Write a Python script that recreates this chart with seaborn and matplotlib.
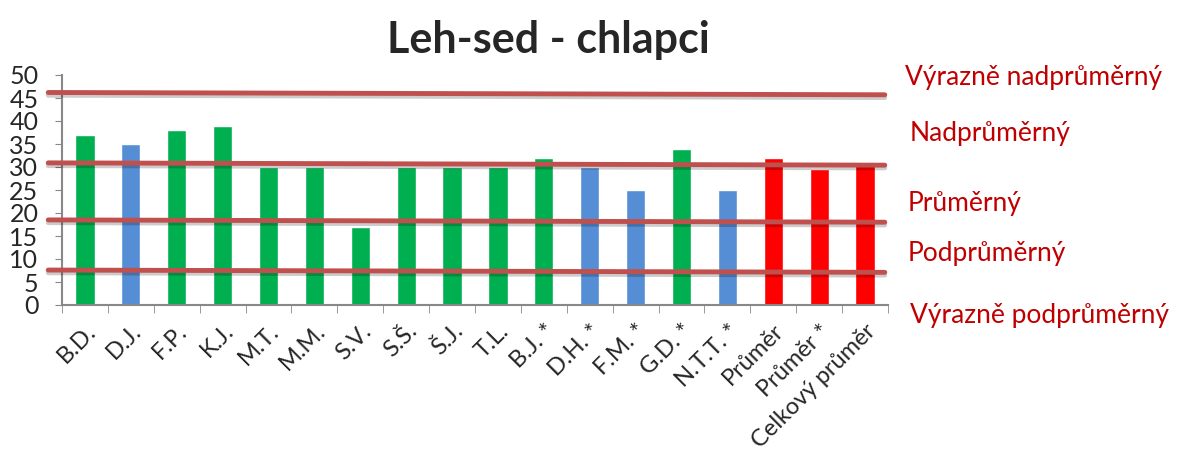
import numpy as np
import pandas as pd
import seaborn as sns
import matplotlib.pyplot as plt
import matplotlib.patheffects as pe
from matplotlib.ticker import FixedLocator, NullFormatter

# data
names = ["B.D.", "D.J.", "F.P.", "K.J.", "M.T.", "M.M.", "S.V.", "S.Š.", "Š.J.", "T.L.",
         "B.J. *", "D.H. *", "F.M. *", "G.D. *", "N.T.T. *", "Průměr", "Průměr *", "Celkový průměr"]
values = [37, 35, 38, 39, 30, 30, 17, 30, 30, 30, 32, 30, 25, 34, 25, 32, 29.5, 31]
groups = ["g", "b", "g", "g", "g", "g", "g", "g", "g", "g", "g", "b", "b", "g", "b", "r", "r", "r"]
group_colors = {"g": "#00B050", "b": "#558ED5", "r": "#FF0000"}

# hand drawn level lines (slightly slanted): value at left end, value at right end
level_left = [46.2, 30.9, 18.5, 7.6]
level_right = [45.7, 30.4, 18.0, 7.1]
level_labels = ["Výrazně nadprůměrný", "Nadprůměrný", "Průměrný", "Podprůměrný", "Výrazně podprůměrný"]
label_y_px = [77, 133, 203, 253, 316]
label_x_px = [905, 910, 908, 908, 910]

df = pd.DataFrame({"name": names, "value": values, "group": groups})

sns.set_style("white")
plt.rcParams["font.family"] = ["Lato", "DejaVu Sans"]

W, H = 1179, 454
fig = plt.figure(figsize=(W / 100, H / 100), dpi=100)
ax = fig.add_axes([62 / W, 1 - 305 / H, (888 - 62) / W, (305 - 75) / H])

sns.barplot(data=df, x="name", y="value", hue="group", palette=group_colors,
            dodge=False, width=0.42, legend=False, ax=ax, saturation=1)

ax.set_ylim(0, 50)
ax.set_xlim(-0.5, len(names) - 0.5)
ax.set_xlabel("")
ax.set_ylabel("")
ax.set_yticks(np.arange(0, 51, 5))
ax.tick_params(axis="y", labelsize=18, length=5, color="#888888", direction="out", left=True, pad=12)
ax.set_xticks(range(len(names)))
ax.set_xticklabels(names, rotation=45, ha="right", rotation_mode="anchor", fontsize=17)
ax.tick_params(axis="x", which="major", length=0, pad=11)
ax.xaxis.set_minor_locator(FixedLocator(np.arange(-0.5, len(names), 1)))
ax.xaxis.set_minor_formatter(NullFormatter())
ax.tick_params(axis="x", which="minor", length=6, color="#888888", direction="out", bottom=True)

for side in ["top", "right"]:
    ax.spines[side].set_visible(False)
for side in ["left", "bottom"]:
    ax.spines[side].set_color("#888888")
    ax.spines[side].set_linewidth(1.5)

for yl, yr in zip(level_left, level_right):
    ax.plot([-0.8, 17.43], [yl, yr], color="#C0504D", lw=3.5, clip_on=False, zorder=5,
            path_effects=[pe.SimpleLineShadow(offset=(0, -2), alpha=0.2, shadow_color="black"), pe.Normal()])

for lab, xp, yp in zip(level_labels, label_x_px, label_y_px):
    fig.text(xp / W, 1 - yp / H, lab, color="#C00000", fontsize=19, ha="left", va="center")

fig.text(548 / W, 1 - 40 / H, "Leh-sed - chlapci", fontsize=31, fontweight="bold", ha="center", va="center")

fig.savefig("out.png", dpi=100)
